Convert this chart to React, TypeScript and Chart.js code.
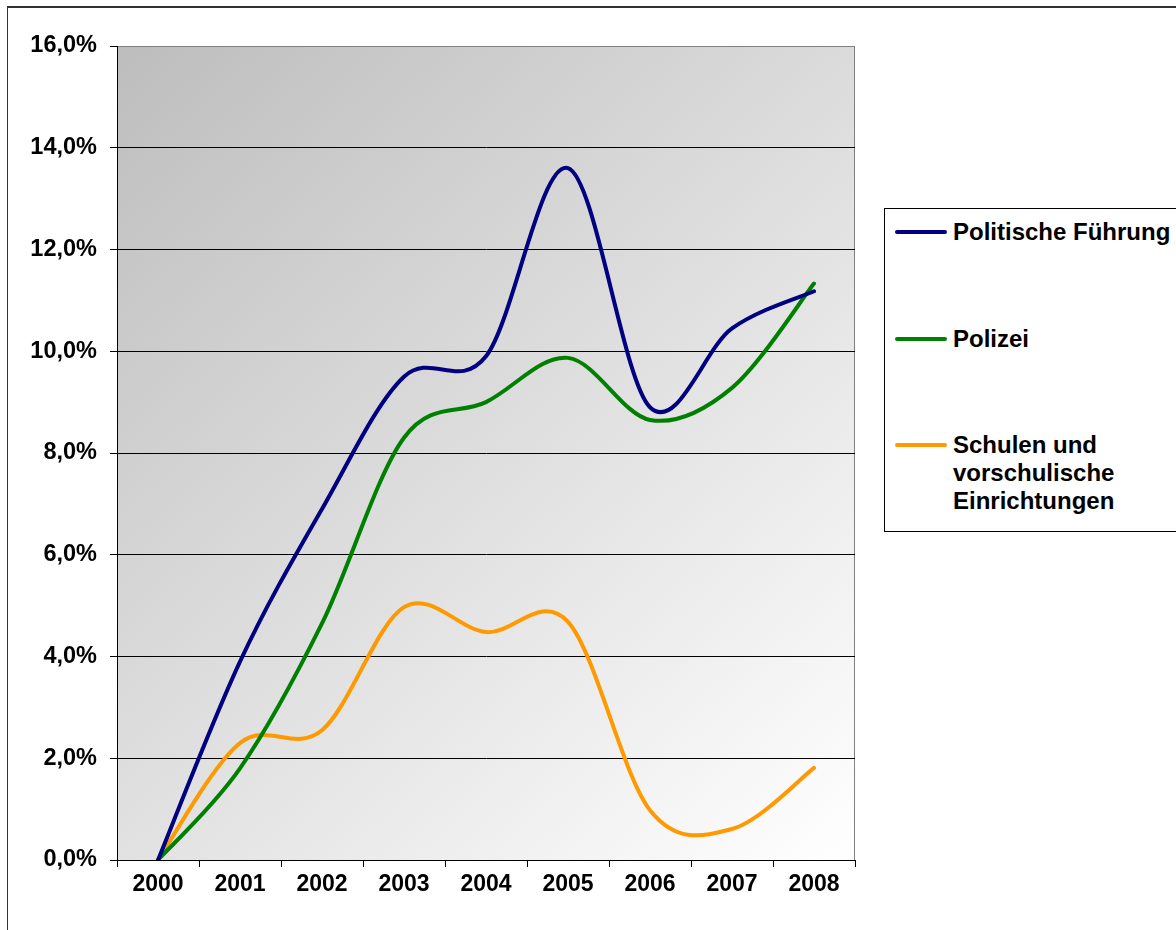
import React, { useEffect, useRef } from 'react';
import { Chart, registerables } from 'chart.js';

Chart.register(...registerables);

// ---- data ----
const years = ['2000', '2001', '2002', '2003', '2004', '2005', '2006', '2007', '2008'];
const politischeFuehrung = [0, 3.9, 6.9, 9.5, 9.9, 13.6, 8.9, 10.45, 11.18];
const polizei = [0, 1.8, 4.65, 8.3, 9.0, 9.87, 8.65, 9.28, 11.33];
const schulen = [0, 2.3, 2.55, 4.97, 4.48, 4.68, 0.98, 0.61, 1.81];
const seriesNames = ['Politische Führung', 'Polizei', 'Schulen und vorschulische Einrichtungen'];
const seriesColors = ['#000080', '#008000', '#FF9900'];
const yTickValues = [0, 2, 4, 6, 8, 10, 12, 14, 16];
const yTickLabels = ['0,0%', '2,0%', '4,0%', '6,0%', '8,0%', '10,0%', '12,0%', '14,0%', '16,0%'];

const FONT = "'Liberation Sans', Arial, Helvetica, sans-serif";

// Excel-like smoothing (uniform Catmull-Rom control points)
const excelSmooth = {
  id: 'excelSmooth',
  beforeDatasetDraw(chart: any, args: any) {
    const meta = args.meta;
    const line = meta.dataset;
    if (!line) return;
    line.updateControlPoints(chart.chartArea, 'x');
    const pts = meta.data;
    const n = pts.length;
    for (let i = 0; i < n; i++) {
      const p = pts[i];
      const prev = pts[Math.max(0, i - 1)];
      const next = pts[Math.min(n - 1, i + 1)];
      const dx = (next.x - prev.x) / 6;
      const dy = (next.y - prev.y) / 6;
      p.cp1x = p.x - dx;
      p.cp1y = p.y - dy;
      p.cp2x = p.x + dx;
      p.cp2y = p.y + dy;
    }
    line._path = undefined;
  },
};

const plotBackground = {
  id: 'plotBackground',
  beforeDraw(chart: any) {
    const { ctx, chartArea } = chart;
    const { left, top, right, bottom } = chartArea;
    ctx.save();
    const g = ctx.createLinearGradient(left, top, right, bottom);
    g.addColorStop(0, '#bdbdbd');
    g.addColorStop(1, '#ffffff');
    ctx.fillStyle = g;
    ctx.fillRect(left, top, right - left, bottom - top);
    ctx.strokeStyle = '#808080';
    ctx.lineWidth = 1;
    ctx.strokeRect(left + 0.5, top + 0.5, right - left - 1, bottom - top);
    ctx.restore();
  },
};

export default function App() {
  const canvasRef = useRef<HTMLCanvasElement | null>(null);

  useEffect(() => {
    const canvas = canvasRef.current;
    if (!canvas) return;
    const seriesData = [politischeFuehrung, polizei, schulen];
    const chart = new Chart(canvas, {
      type: 'line',
      data: {
        labels: years,
        datasets: seriesData.map((d, i) => ({
          label: seriesNames[i],
          data: d,
          borderColor: seriesColors[i],
          backgroundColor: seriesColors[i],
          borderWidth: 4,
          tension: 0.4,
          pointRadius: 0,
          fill: false,
        })),
      },
      options: {
        responsive: false,
        animation: false,
        events: [],
        layout: { padding: { left: 0, right: 25, top: 46, bottom: 0 } },
        elements: {
          line: { capBezierPoints: false, borderCapStyle: 'round', borderJoinStyle: 'round' },
          point: { radius: 0 },
        },
        plugins: {
          legend: { display: false },
          tooltip: { enabled: false },
          title: { display: false },
        },
        scales: {
          x: {
            type: 'category',
            offset: true,
            grid: {
              offset: true,
              drawOnChartArea: false,
              drawTicks: true,
              tickLength: 7,
              color: '#000000',
              lineWidth: 1,
            },
            border: { color: '#000000', width: 1 },
            ticks: {
              color: '#000000',
              font: { family: FONT, size: 23, weight: 'bold' },
              padding: 4,
              maxRotation: 0,
              autoSkip: false,
            },
            afterFit: (s: any) => {
              s.height = 70;
            },
          },
          y: {
            min: 0,
            max: 16,
            afterBuildTicks: (s: any) => {
              s.ticks = yTickValues.map((v) => ({ value: v }));
            },
            ticks: {
              color: '#000000',
              font: { family: FONT, size: 23.5, weight: 'bold' },
              padding: 13,
              callback: (v: any) => {
                const idx = yTickValues.indexOf(Number(v));
                return idx >= 0 ? yTickLabels[idx] : '';
              },
            },
            grid: {
              color: (ctx: any) => (ctx.tick && ctx.tick.value === 16 ? '#808080' : '#000000'),
              tickColor: '#000000',
              lineWidth: 1,
              tickLength: 7,
              drawTicks: true,
            },
            border: { color: '#000000', width: 1 },
            afterFit: (s: any) => {
              s.width = 117;
            },
          },
        },
      } as any,
      plugins: [plotBackground, excelSmooth],
    });
    return () => chart.destroy();
  }, []);

  const legendTop = [218, 325, 431];

  return (
    <div
      style={{
        position: 'absolute',
        left: 0,
        top: 0,
        width: 1176,
        height: 930,
        overflow: 'hidden',
        background: '#ffffff',
      }}
    >
      <div
        style={{
          position: 'absolute',
          left: 7,
          top: 6,
          width: 1300,
          height: 1000,
          borderTop: '2px solid #333333',
          borderLeft: '1px solid #333333',
        }}
      />
      <canvas
        ref={canvasRef}
        width={880}
        height={930}
        style={{ position: 'absolute', left: 0, top: 0, width: 880, height: 930 }}
      />
      <div
        style={{
          position: 'absolute',
          left: 884,
          top: 208,
          width: 300,
          height: 322,
          border: '1px solid #000000',
          background: '#ffffff',
        }}
      />
      {seriesNames.map((name, i) => (
        <React.Fragment key={name}>
          <div
            style={{
              position: 'absolute',
              left: 895,
              top: legendTop[i] + 12,
              width: 52,
              height: 4,
              borderRadius: 2,
              background: seriesColors[i],
            }}
          />
          <div
            style={{
              position: 'absolute',
              left: 953,
              top: legendTop[i],
              width: 224,
              fontFamily: FONT,
              fontWeight: 'bold',
              fontSize: 24,
              lineHeight: '28px',
              color: '#000000',
            }}
          >
            {name}
          </div>
        </React.Fragment>
      ))}
    </div>
  );
}
